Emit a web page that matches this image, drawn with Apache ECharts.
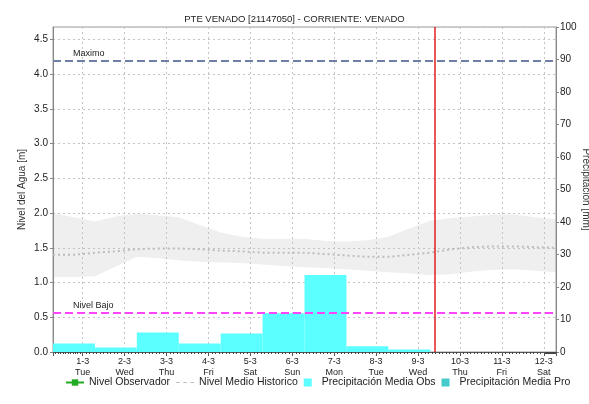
<!DOCTYPE html>
<html>
<head>
<meta charset="utf-8">
<script src="https://cdn.jsdelivr.net/npm/echarts@6/dist/echarts.min.js"></script>
<style>
  html, body { margin: 0; padding: 0; background: #fff; }
  #chart { width: 589px; height: 404px; }
</style>
</head>
<body>
<div id="chart"></div>
<script>
// Station water level (m) and daily precipitation (mm)
const chartTitle = 'PTE VENADO [21147050] - CORRIENTE: VENADO';
const axisStart = '2022-02-28 07:00';
const axisEnd = '2022-03-12 07:00';
const nowTime = '2022-03-09 09:45';

// historic band and mean, every 12 hours
const histTimes = [
  '2022-02-28 07:00', '2022-02-28 19:00', '2022-03-01 07:00', '2022-03-01 19:00',
  '2022-03-02 07:00', '2022-03-02 19:00', '2022-03-03 07:00', '2022-03-03 19:00',
  '2022-03-04 07:00', '2022-03-04 19:00', '2022-03-05 07:00', '2022-03-05 19:00',
  '2022-03-06 07:00', '2022-03-06 19:00', '2022-03-07 07:00', '2022-03-07 19:00',
  '2022-03-08 07:00', '2022-03-08 19:00', '2022-03-09 07:00', '2022-03-09 19:00',
  '2022-03-10 07:00', '2022-03-10 19:00', '2022-03-11 07:00', '2022-03-11 19:00',
  '2022-03-12 07:00'
];
const histUpper = [2.00, 1.94, 1.88, 1.95, 1.99, 1.97, 1.94, 1.83, 1.72, 1.66, 1.63, 1.63, 1.63,
                   1.60, 1.59, 1.61, 1.66, 1.78, 1.89, 1.93, 1.95, 1.98, 1.98, 1.94, 1.91];
const histLower = [1.08, 1.08, 1.09, 1.23, 1.37, 1.35, 1.32, 1.30, 1.29, 1.28, 1.26, 1.24, 1.22,
                   1.21, 1.19, 1.17, 1.15, 1.13, 1.11, 1.12, 1.16, 1.18, 1.19, 1.17, 1.15];
const histMean  = [1.40, 1.40, 1.43, 1.45, 1.48, 1.49, 1.49, 1.48, 1.46, 1.45, 1.43, 1.43, 1.43,
                   1.41, 1.39, 1.37, 1.37, 1.40, 1.43, 1.48, 1.51, 1.52, 1.52, 1.51, 1.50];

// precipitation, one value per 07:00-07:00 day
const precipDays = [
  '2022-02-28 07:00', '2022-03-01 07:00', '2022-03-02 07:00', '2022-03-03 07:00',
  '2022-03-04 07:00', '2022-03-05 07:00', '2022-03-06 07:00', '2022-03-07 07:00',
  '2022-03-08 07:00'
];
const precipObs = [2.6, 1.4, 6.0, 2.6, 5.7, 11.9, 23.7, 1.8, 0.8];

// reference levels
const levelMax = 4.2;
const levelLow = 0.57;

const weekdays = ['Sun', 'Mon', 'Tue', 'Wed', 'Thu', 'Fri', 'Sat'];
const DAY = 24 * 3600 * 1000;
const FONT = 'Liberation Sans, Arial, sans-serif';

const bandWidth = histUpper.map((u, i) => +(u - histLower[i]).toFixed(3));

const chart = echarts.init(document.getElementById('chart'));

function precipRect(color) {
  return function (params, api) {
    const t = api.value(0);
    const p0 = api.coord([t, api.value(1)]);
    const p1 = api.coord([t + DAY, 0]);
    return {
      type: 'rect',
      shape: { x: p0[0], y: p0[1], width: p1[0] - p0[0], height: p1[1] - p0[1] },
      style: { fill: color }
    };
  };
}

chart.setOption({
  animation: false,
  textStyle: { fontFamily: FONT },
  title: {
    text: chartTitle,
    left: 'center',
    top: 9,
    textStyle: { fontSize: 9.5, fontWeight: 'normal', color: '#222', fontFamily: FONT }
  },
  grid: {
    left: 53, right: 33, top: 27, bottom: 52,
    outerBoundsMode: 'none',
    containLabel: false,
    show: true, borderColor: '#9a9a9a', borderWidth: 1, backgroundColor: 'transparent'
  },
  legend: {
    top: 372,
    left: 60,
    itemWidth: 18,
    itemHeight: 8,
    itemGap: 6,
    textStyle: { fontSize: 10.5, color: '#222', fontFamily: FONT },
    data: [
      { name: 'Nivel Observador' },
      { name: 'Nivel Medio Historico', icon: 'path://M0,0H3V1H0Z M6,0H9V1H6Z M12,0H15V1H12Z' },
      { name: 'Precipitación Media Obs', icon: 'path://M0,0H1V1H0Z' },
      { name: 'Precipitación Media Pro', icon: 'path://M0,0H1V1H0Z' }
    ]
  },
  xAxis: {
    type: 'time',
    min: axisStart,
    max: axisEnd,
    minInterval: DAY,
    maxInterval: DAY,
    axisLine: { show: true, lineStyle: { color: '#555', width: 1 } },
    axisTick: { show: true, length: 4, lineStyle: { color: '#555' } },
    minorTick: { show: true, splitNumber: 12, length: 2, lineStyle: { color: '#444' } },
    splitLine: { show: true, lineStyle: { color: '#c4c4c4', type: [2, 3], width: 1 } },
    axisLabel: {
      fontSize: 9, color: '#222', lineHeight: 11, margin: 4, fontFamily: FONT,
      formatter: function (v) {
        const d = new Date(v);
        return d.getDate() + '-' + (d.getMonth() + 1) + '\n' + weekdays[d.getDay()];
      }
    }
  },
  yAxis: [
    {
      type: 'value',
      min: 0,
      max: 4.68,
      interval: 0.5,
      name: 'Nivel del Agua [m]',
      nameLocation: 'middle',
      nameGap: 26,
      nameMoveOverlap: false,
      nameTextStyle: { fontSize: 10, color: '#333', fontFamily: FONT },
      axisLine: { show: true, lineStyle: { color: '#888' } },
      axisTick: { show: true, length: 3, lineStyle: { color: '#888' } },
      axisLabel: {
        fontSize: 10, color: '#222', margin: 5, showMaxLabel: false,
        formatter: v => v.toFixed(1)
      },
      splitLine: { show: true, lineStyle: { color: '#c4c4c4', type: [2, 3], width: 1 } }
    },
    {
      type: 'value',
      min: 0,
      max: 100,
      interval: 10,
      position: 'right',
      name: 'Precipitacion [mm]',
      nameLocation: 'middle',
      nameRotate: -90,
      nameGap: 25,
      nameMoveOverlap: false,
      nameTextStyle: { fontSize: 10, color: '#333', fontFamily: FONT },
      axisLine: { show: true, lineStyle: { color: '#888' } },
      axisTick: { show: true, length: 3, lineStyle: { color: '#888' } },
      axisLabel: { fontSize: 10, color: '#222', margin: 4 },
      splitLine: { show: false }
    }
  ],
  series: [
    {
      name: 'Nivel Observador',
      type: 'line',
      data: [],
      symbol: 'rect',
      symbolSize: 4,
      color: '#22aa22',
      lineStyle: { color: '#22aa22', width: 1 }
    },
    {
      name: 'bandLower',
      type: 'line',
      stack: 'band',
      z: -1,
      data: histTimes.map((t, i) => [t, histLower[i]]),
      symbol: 'none',
      lineStyle: { opacity: 0 },
      silent: true
    },
    {
      name: 'bandRange',
      type: 'line',
      stack: 'band',
      z: -1,
      data: histTimes.map((t, i) => [t, bandWidth[i]]),
      symbol: 'none',
      lineStyle: { opacity: 0 },
      areaStyle: { color: '#efefef', opacity: 1 },
      silent: true
    },
    {
      name: 'Precipitación Media Obs',
      type: 'custom',
      yAxisIndex: 1,
      color: '#5cffff',
      clip: true,
      encode: { x: 0, y: 1 },
      data: precipDays.map((t, i) => [t, precipObs[i]]),
      renderItem: precipRect('#5cffff')
    },
    {
      name: 'Precipitación Media Pro',
      type: 'custom',
      yAxisIndex: 1,
      color: '#45cbcb',
      clip: true,
      encode: { x: 0, y: 1 },
      data: [],
      renderItem: precipRect('#45cbcb')
    },
    {
      name: 'Nivel Medio Historico',
      type: 'line',
      data: histTimes.map((t, i) => [t, histMean[i]]),
      symbol: 'none',
      color: '#bdbdbd',
      lineStyle: { color: '#bdbdbd', width: 2, type: [2, 3] },
      markLine: {
        silent: true,
        symbol: 'none',
        animation: false,
        data: [
          {
            yAxis: levelMax,
            lineStyle: { color: '#6e7ea6', width: 2, type: [8, 4] },
            label: {
              show: true, position: 'insideStartTop', formatter: 'Maximo',
              color: '#222', fontSize: 9, distance: [20, 2], fontFamily: FONT
            }
          },
          {
            yAxis: levelLow,
            lineStyle: { color: '#ff44ff', width: 2, type: [8, 4] },
            label: {
              show: true, position: 'insideStartTop', formatter: 'Nivel Bajo',
              color: '#222', fontSize: 9, distance: [20, 2], fontFamily: FONT
            }
          },
          {
            xAxis: nowTime,
            lineStyle: { color: '#e02020', width: 1.5, type: 'solid' },
            label: { show: false }
          }
        ]
      }
    }
  ]
});
</script>
</body>
</html>
